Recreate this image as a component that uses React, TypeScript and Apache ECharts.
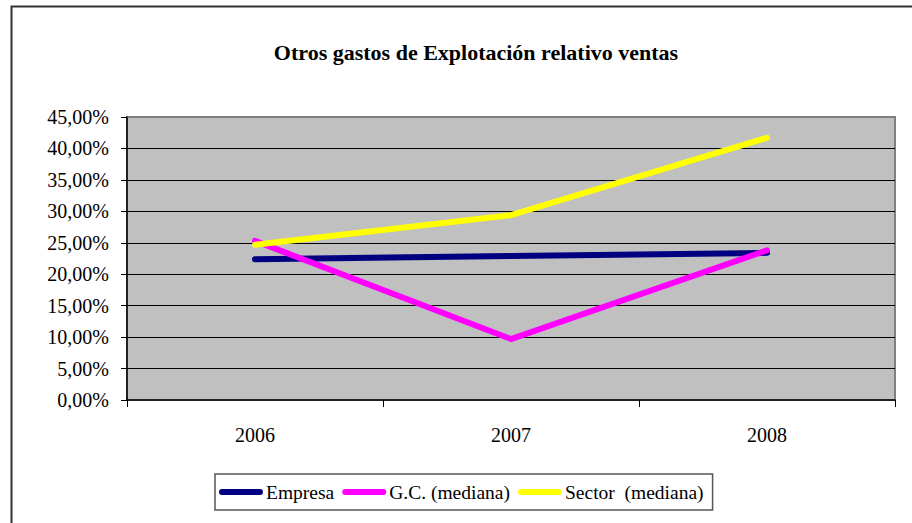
import React, { useEffect, useRef } from "react";
import * as echarts from "echarts";

const categories = ["2006", "2007", "2008"];
const empresa = [22.4, 22.9, 23.4];
const gcMediana = [25.3, 9.7, 23.8];
const sectorMediana = [24.7, 29.4, 41.7];
const seriesNames = ["Empresa", "G.C. (mediana)", "Sector  (mediana)"];
const seriesColors = ["#000080", "#FF00FF", "#FFFF00"];
const titleText = "Otros gastos de Explotación relativo ventas";

const FONT = "Liberation Serif";

export default function App() {
  const ref = useRef<HTMLDivElement>(null);
  useEffect(() => {
    document.body.style.margin = "0";
    if (!ref.current) return;
    const chart = echarts.init(ref.current, undefined, { renderer: "svg" });
    const data = [empresa, gcMediana, sectorMediana];
    chart.setOption({
      animation: false,
      backgroundColor: "#ffffff",
      textStyle: { fontFamily: FONT },
      title: {
        text: titleText,
        left: 471,
        textAlign: "center",
        top: 36,
        textStyle: { fontFamily: FONT, fontSize: 22, fontWeight: "bold", color: "#000" },
      },
      graphic: [
        {
          type: "rect",
          shape: { x: 11.5, y: 6.5, width: 960, height: 560 },
          style: { fill: "none", stroke: "#333", lineWidth: 2 },
          silent: true,
          z: 100,
        },
      ],
      legend: {
        left: 215,
        top: 474,
        orient: "horizontal",
        data: seriesNames,
        icon: "path://M3,0 H41 A3,3 0 0 1 41,6 H3 A3,3 0 0 1 3,0 Z",
        symbolKeepAspect: false,
        itemWidth: 44,
        itemHeight: 6,
        itemGap: 8,
        padding: [8, 9, 8, 4],
        borderColor: "#555",
        borderWidth: 1.5,
        backgroundColor: "#fff",
        textStyle: { fontFamily: FONT, fontSize: 19.5, color: "#000", padding: [0, 0, 0, -2] },
      },
      grid: {
        left: 127,
        top: 117,
        right: 17,
        bottom: 123,
        show: true,
        backgroundColor: "#C0C0C0",
        borderColor: "#808080",
        borderWidth: 2,
      },
      xAxis: {
        type: "category",
        data: categories,
        boundaryGap: true,
        axisLine: { show: true, lineStyle: { color: "#000", width: 1.5 } },
        axisTick: { show: true, inside: false, length: 7, lineStyle: { color: "#000" } },
        axisLabel: { fontFamily: FONT, fontSize: 20, color: "#000", margin: 25 },
        splitLine: { show: false },
      },
      yAxis: {
        type: "value",
        min: 0,
        max: 45,
        interval: 5,
        axisLine: { show: true, lineStyle: { color: "#000", width: 1.5 } },
        axisTick: { show: true, inside: false, length: 6, lineStyle: { color: "#000" } },
        axisLabel: {
          fontFamily: FONT,
          fontSize: 20,
          color: "#000",
          margin: 18,
          formatter: (v: number) => v.toFixed(2).replace(".", ",") + "%",
        },
        splitLine: { show: true, showMaxLine: false, showMinLine: false, lineStyle: { color: "#000", width: 1 } },
      },
      series: seriesNames.map((name, i) => ({
        name,
        type: "line",
        data: data[i],
        symbol: "none",
        color: seriesColors[i],
        lineStyle: { color: seriesColors[i], width: 6, cap: "round", join: "miter" },
        z: 2 + i,
      })),
    });
    return () => chart.dispose();
  }, []);
  return <div ref={ref} style={{ width: 912, height: 523 }} />;
}
